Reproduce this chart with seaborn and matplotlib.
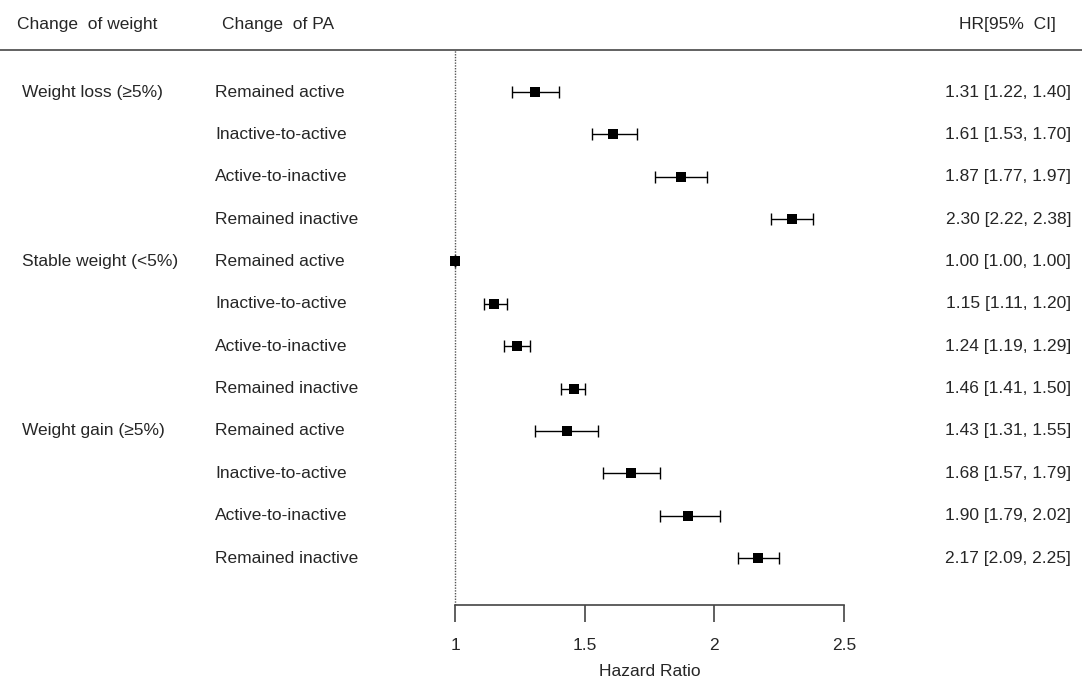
import numpy as np
import pandas as pd
import seaborn as sns
import matplotlib
matplotlib.use("Agg")
import matplotlib.pyplot as plt

# Data
weight_groups = ["Weight loss (\u22655%)", "Stable weight (<5%)", "Weight gain (\u22655%)"]
pa_changes = ["Remained active", "Inactive-to-active", "Active-to-inactive", "Remained inactive"]
hr = [1.31, 1.61, 1.87, 2.30,
      1.00, 1.15, 1.24, 1.46,
      1.43, 1.68, 1.90, 2.17]
ci_low = [1.22, 1.53, 1.77, 2.22,
          1.00, 1.11, 1.19, 1.41,
          1.31, 1.57, 1.79, 2.09]
ci_high = [1.40, 1.70, 1.97, 2.38,
           1.00, 1.20, 1.29, 1.50,
           1.55, 1.79, 2.02, 2.25]
x_ticks = [1, 1.5, 2, 2.5]

df = pd.DataFrame({
    "group": np.repeat(weight_groups, len(pa_changes)),
    "pa": pa_changes * len(weight_groups),
    "hr": hr, "lo": ci_low, "hi": ci_high,
})
df["row"] = np.arange(1, len(df) + 1)

sns.set_style("white")
plt.rcParams["font.family"] = ["Liberation Sans", "DejaVu Sans"]
txt_color = "#262626"
fs = 12.5

W, H = 1082, 680
fig = plt.figure(figsize=(W / 100, H / 100), dpi=100)
# axes spans from y=50px (top line) to y=605px (x axis)
ax = fig.add_axes([0, (H - 605) / H, 1, (605 - 50) / H])

px_per_unit = (844 - 455) / 1.5
ax.set_xlim(1 - 455 / px_per_unit, 1 + (W - 455) / px_per_unit)
row_h = (558 - 92) / 11
ax.set_ylim(12 + (605 - 558) / row_h, 1 - (92 - 50) / row_h)

# reference line
ax.axvline(1, ymin=0, ymax=1, color="#555555", lw=1.0, ls=(0, (1, 1)), zorder=1)

# CI bars
ax.errorbar(df["hr"], df["row"],
            xerr=[df["hr"] - df["lo"], df["hi"] - df["hr"]],
            fmt="none", ecolor="black", elinewidth=1.0, capsize=4, capthick=1.0, zorder=2)
sns.scatterplot(data=df, x="hr", y="row", marker="s", s=55, color="black",
                edgecolor="black", linewidth=0, ax=ax, zorder=3, legend=False)

# spines
for s in ["left", "right"]:
    ax.spines[s].set_visible(False)
ax.spines["top"].set_color("#555555")
ax.spines["top"].set_linewidth(1.3)
ax.spines["bottom"].set_bounds(1, 2.5)
ax.spines["bottom"].set_color("#444444")
ax.spines["bottom"].set_linewidth(1.2)

ax.set_xticks(x_ticks)
ax.set_xticklabels(["1", "1.5", "2", "2.5"])
ax.tick_params(axis="x", bottom=True, direction="out", length=12, width=1.2, color="#444444",
               pad=12, labelsize=fs, labelcolor=txt_color)
ax.set_yticks([])
ax.set_xlabel("")
ax.set_ylabel("")
ax.text(1.75, 0, "Hazard Ratio", transform=ax.get_xaxis_transform(), ha="center", va="center",
        fontsize=fs, color=txt_color, clip_on=False).set_y(-(672 - 605) / (605 - 50))

trans = ax.get_yaxis_transform()
# row labels
for i, g in enumerate(weight_groups):
    ax.text(22 / W, 1 + i * 4, g, transform=trans, ha="left", va="center", fontsize=fs, color=txt_color)
for _, r in df.iterrows():
    ax.text(215 / W, r["row"], r["pa"], transform=trans, ha="left", va="center", fontsize=fs, color=txt_color)
    ax.text(1071 / W, r["row"], f"{r['hr']:.2f} [{r['lo']:.2f}, {r['hi']:.2f}]",
            transform=trans, ha="right", va="center", fontsize=fs, color=txt_color)

# headers
fig.text(17 / W, 1 - 24 / H, "Change  of weight", ha="left", va="center", fontsize=fs, color=txt_color)
fig.text(222 / W, 1 - 24 / H, "Change  of PA", ha="left", va="center", fontsize=fs, color=txt_color)
fig.text(1056 / W, 1 - 24 / H, "HR[95%  CI]", ha="right", va="center", fontsize=fs, color=txt_color)

fig.savefig("out.png", dpi=100)
